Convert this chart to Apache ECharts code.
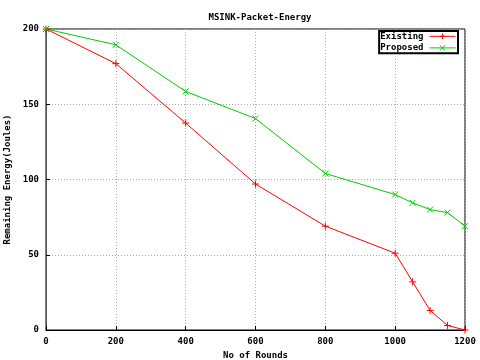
<!DOCTYPE html>
<html>
<head>
<meta charset="utf-8">
<script src="https://cdn.jsdelivr.net/npm/echarts@6/dist/echarts.min.js"></script>
<style>
  html, body { margin: 0; padding: 0; background: #fff; }
  #main { width: 480px; height: 360px; }
</style>
</head>
<body>
<div id="main"></div>
<script>
// rounds on x axis
const rounds = [0, 200, 400, 600, 800, 1000, 1050, 1100, 1150, 1200];
// remaining energy
const existing = [200, 177, 137.5, 97, 69, 51, 32, 13, 3, 0];
const proposed = [200, 189.5, 158.5, 140.5, 104, 90, 84.5, 80, 78, 69];

const font = 'DejaVu Sans Mono';
const plus = 'path://M0,5L10,5M5,0L5,10';
const cross = 'path://M0,0L10,10M0,10L10,0';

const pairs = (ys) => rounds.map((x, i) => [x, ys[i]]);

const chart = echarts.init(document.getElementById('main'));
chart.setOption({
  animation: false,
  backgroundColor: '#fff',
  textStyle: { fontFamily: font },
  title: {
    text: 'MSINK-Packet-Energy',
    left: 255, top: 8, textAlign: 'center',
    textStyle: { fontFamily: font, fontSize: 9, fontWeight: 'bold', color: '#000' }
  },
  legend: {
    right: 22, top: 31,
    orient: 'vertical',
    align: 'right',
    itemGap: 1,
    itemWidth: 26,
    itemHeight: 7,
    padding: [0, 2, 0, 1],
    borderColor: '#000',
    borderWidth: 2,
    borderRadius: 0,
    backgroundColor: '#fff',
    lineStyle: { width: 1 },
    itemStyle: { borderWidth: 1 },
    textStyle: { fontFamily: font, fontSize: 9, fontWeight: 'bold', color: '#000', padding: [0, 1, 0, 0] },
    data: ['Existing', 'Proposed']
  },
  grid: {
    left: 46, right: 15, top: 29, bottom: 30,
    outerBoundsMode: 'none',
    containLabel: false,
    show: true, borderColor: '#000', borderWidth: 1
  },
  xAxis: {
    type: 'value', min: 0, max: 1200, interval: 200,
    name: 'No of Rounds', nameLocation: 'middle', nameGap: 19,
    nameTextStyle: { fontFamily: font, fontSize: 9, fontWeight: 'bold', color: '#000' },
    axisLine: { lineStyle: { color: '#000' } },
    axisTick: { inside: true, length: 4, lineStyle: { color: '#000' } },
    axisLabel: { fontFamily: font, fontSize: 9, fontWeight: 'bold', color: '#000', margin: 7, formatter: (v) => String(v) },
    splitLine: { lineStyle: { color: '#aaa', type: [1, 2] } }
  },
  yAxis: {
    type: 'value', min: 0, max: 200, interval: 50,
    name: 'Remaining Energy(Joules)', nameLocation: 'middle', nameGap: 31,
    nameTextStyle: { fontFamily: font, fontSize: 9, fontWeight: 'bold', color: '#000' },
    axisLine: { show: true, lineStyle: { color: '#555' } },
    axisTick: { show: true, inside: true, length: 4, lineStyle: { color: '#000' } },
    axisLabel: { fontFamily: font, fontSize: 9, fontWeight: 'bold', color: '#000', margin: 7 },
    splitLine: { lineStyle: { color: '#aaa', type: [1, 2] } }
  },
  series: [
    {
      name: 'Existing', type: 'line', data: pairs(existing),
      symbol: plus, symbolSize: 7,
      lineStyle: { color: '#ff0000', width: 1 },
      itemStyle: { color: 'none', borderColor: '#ff0000', borderWidth: 1 }
    },
    {
      name: 'Proposed', type: 'line', data: pairs(proposed),
      symbol: cross, symbolSize: 6,
      lineStyle: { color: '#00cc00', width: 1 },
      itemStyle: { color: 'none', borderColor: '#00cc00', borderWidth: 1 }
    }
  ]
});
</script>
</body>
</html>
